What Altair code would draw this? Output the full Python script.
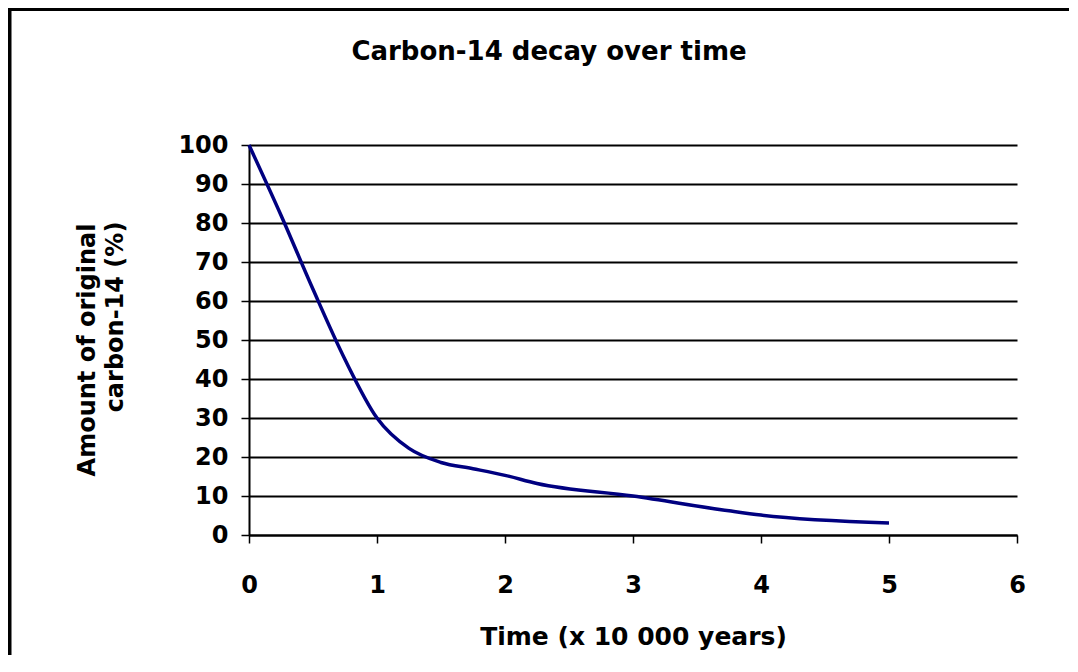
import altair as alt
import pandas as pd

# Data
time_x10k = [0, 0.25, 0.5, 0.75, 1.0, 1.25, 1.5, 1.75, 2.0, 2.25, 3.0, 3.75, 4.0, 5.0]
percent_c14 = [100, 82, 63, 45, 30, 22.2, 18.6, 17, 15.3, 13.2, 10, 6.2, 5.1, 3.1]
x_ticks = [0, 1, 2, 3, 4, 5, 6]
y_ticks = [0, 10, 20, 30, 40, 50, 60, 70, 80, 90, 100]
chart_title = "Carbon-14 decay over time"
x_title = "Time (x 10 000 years)"
y_title_lines = ["Amount of original", "carbon-14 (%)"]

FONT = "DejaVu Sans"
df = pd.DataFrame({"t": time_x10k, "p": percent_c14})

line = alt.Chart(df).mark_line(color="#000080", strokeWidth=3.5, interpolate="monotone").encode(
    x=alt.X("t:Q", scale=alt.Scale(domain=[0, 6], nice=False, zero=False),
            axis=alt.Axis(values=x_ticks, title=x_title, grid=False, labelFlush=False,
                          labelPadding=30, tickSize=8, titleY=101, titleBaseline="middle",
                          format="d")),
    y=alt.Y("p:Q", scale=alt.Scale(domain=[0, 100], nice=False),
            axis=alt.Axis(values=y_ticks, title=None, grid=True, labelPadding=13,
                          tickSize=8, format="d")),
)

one = pd.DataFrame({"k": [0]})
left_border = alt.Chart(one).mark_rule(color="black", strokeWidth=4).encode(
    x=alt.value(-239.5), y=alt.value(-140), y2=alt.value(600)
)
top_border = alt.Chart(one).mark_rect(color="black").encode(
    x=alt.value(-241.5), x2=alt.value(820), y=alt.value(-138), y2=alt.value(-134)
)

title_text = alt.Chart(one).mark_text(
    text=chart_title, font=FONT, fontSize=26, fontWeight="bold",
    color="black", align="center", baseline="alphabetic"
).encode(x=alt.value(300), y=alt.value(-85))

ytitle1 = alt.Chart(one).mark_text(
    text=y_title_lines[0], angle=270, font=FONT, fontSize=24, fontWeight="bold",
    color="black", align="center", baseline="middle"
).encode(x=alt.value(-161), y=alt.value(205))

ytitle2 = alt.Chart(one).mark_text(
    text=y_title_lines[1], angle=270, font=FONT, fontSize=24, fontWeight="bold",
    color="black", align="center", baseline="middle"
).encode(x=alt.value(-133), y=alt.value(172))

chart = alt.layer(left_border, top_border, line, title_text, ytitle1, ytitle2).properties(
    width=768,
    height=390,
    autosize=alt.AutoSizeParams(type="none"),
    padding={"left": 241, "top": 137, "right": 53, "bottom": 120},
    background="white",
).configure_view(stroke=None).configure_axis(
    labelFont=FONT, labelFontSize=24, labelFontWeight="bold", labelColor="black",
    titleFont=FONT, titleFontSize=25, titleFontWeight="bold", titleColor="black",
    domainColor="black", domainWidth=2, tickColor="black", tickWidth=1.5,
    gridColor="black", gridWidth=1.8, gridOpacity=1,
)

chart.save("out.html", embed_options={"renderer": "svg", "actions": False})
